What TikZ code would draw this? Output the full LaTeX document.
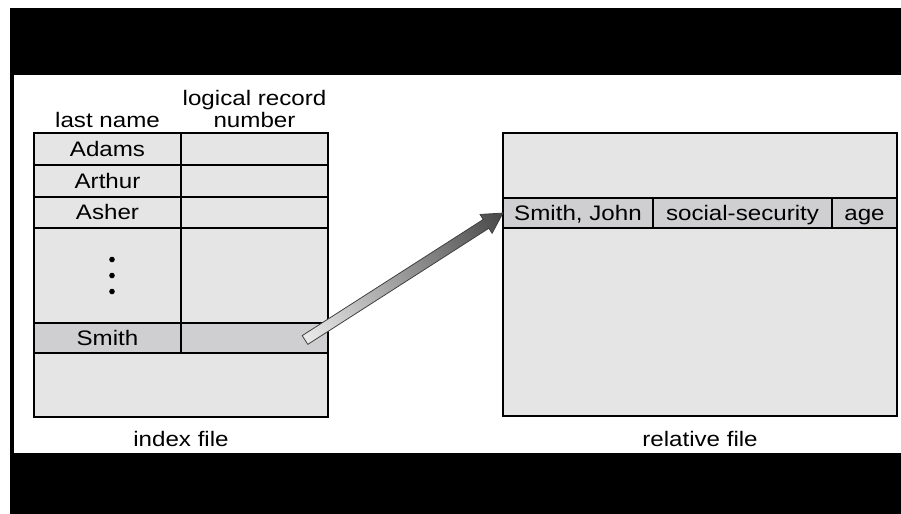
\documentclass[tikz,border=0pt]{standalone}
\usepackage{fontspec}
\setmainfont{Liberation Sans}[FakeStretch=1.15]
\usepackage{tikz}
\usetikzlibrary{calc}
\definecolor{cellgray}{RGB}{229,229,229}
\definecolor{rowgray}{RGB}{207,207,209}

\begin{document}
\begin{tikzpicture}[x=.5pt,y=-.5pt,line width=.9pt,font=\fontsize{10.5}{12}\selectfont]%
                    \useasboundingbox (0,0) rectangle (901,514);
                    \fill[white] (0,0) rectangle (901,514); %%
                    \fill[black] (10,8) rectangle (901,514); %%
                    \fill[white] (14,75) rectangle (901,453); %%
                    \begin{scope}
                        \tikzstyle{every node}=[draw,fill=cellgray,anchor=north west,inner sep=0pt,outer sep=0pt,
                            text height=7.6pt,text depth=.6pt,minimum width=73.5pt];%%
                        % index file
                        \node[minimum height=16pt] (n0) at (34,133) {Adams}; %%
                        \node[minimum height=16pt] (n1) at (n0.south west) {Arthur}; %%
                        \node[minimum height=15.5pt] (n2) at (n1.south west) {Asher}; %%
                        \node[minimum height=47.5pt] (n3) at (n2.south west) {}; %%
                        \node[minimum height=15pt,fill=rowgray] (n4) at (n3.south west) {Smith}; %%
                        \node[minimum height=16pt] (m0) at (n0.north east) {}; %%
                        \node[minimum height=16pt] (m1) at (m0.south west) {}; %%
                        \node[minimum height=15.5pt] (m2) at (m1.south west) {}; %%
                        \node[minimum height=47.5pt] (m3) at (m2.south west) {}; %%
                        \node[minimum height=15pt,fill=rowgray] (m4) at (m3.south west) {}; %%
                        \node[minimum height=32pt,minimum width=147pt] (n5) at (n4.south west) {}; %%
                        % relative file
                        \node[minimum height=32.5pt,minimum width=197pt] (r0) at (503,133) {}; %%
                        \node[minimum height=15pt,minimum width=75pt,fill=rowgray] (r1) at (r0.south west) {Smith, John}; %%
                        \node[minimum height=15pt,minimum width=89.5pt,fill=rowgray] (r2) at (r1.north east) {social-security}; %%
                        \node[minimum height=15pt,minimum width=32.5pt,fill=rowgray] (r3) at (r2.north east) {age}; %%
                        \node[minimum height=94pt,minimum width=197pt] (r4) at (r1.south west) {}; %%
                    \end{scope}
                        \foreach \dy in {-16,0,16}
                            \fill ([shift={(4.5,\dy)}]n3.center) circle (1.4pt); %%
                        \node[anchor=base] (h0) at (107.5,127) {last name}; %%
                        \node[anchor=base] (h1) at (254.5,105) {logical record}; %%
                        \node[anchor=base] (h2) at (254.5,127) {number}; %%
                        \node[anchor=base] (l0) at (181,446) {index file}; %%
                        \node[anchor=base] (l1) at (700,446) {relative file}; %%
                        % shaded pointer
                        \coordinate (tail) at ([shift={(-23,2)}]m4.east); %%
                        \coordinate (tip) at (r1.west); %%
                        \path let \p1=($(tip)-(tail)$) in \pgfextra{%
                            \pgfmathparse{atan2(\y1,\x1)}\xdef\arrang{\pgfmathresult}%
                            \pgfmathparse{veclen(\x1,\y1)}\xdef\arrlen{\pgfmathresult}}; %%
                    \begin{scope}[transform canvas={shift={(tail)},rotate=\arrang}]
                        \shade[left color=black!8,right color=black!72,draw=black!75,line width=.4pt]
                            (0pt,2.6pt) -- ({\arrlen*1pt-10pt},2.6pt) -- ({\arrlen*1pt-10pt},5.6pt)
                            -- ({\arrlen*1pt},0pt) -- ({\arrlen*1pt-10pt},-5.6pt)
                            -- ({\arrlen*1pt-10pt},-2.6pt) -- (0pt,-2.6pt) -- cycle; %%
                    \end{scope}
                    \end{tikzpicture}
\end{document}
